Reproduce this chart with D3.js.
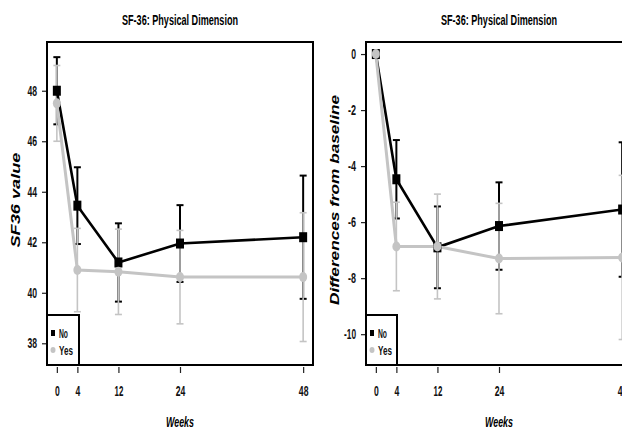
<!DOCTYPE html>
<html>
<head>
<meta charset="utf-8">
<script src="https://cdn.jsdelivr.net/npm/d3@7"></script>
<style>
  body { margin: 0; background: #fff; }
  text { font-family: "Liberation Sans Narrow", "Liberation Sans", Arial, sans-serif; font-weight: bold; }
</style>
</head>
<body>
<div id="Area"></div>
<script>
  // data
  var weeks = [0, 4, 12, 24, 48];
  var weekTicks = [0, 4, 12, 24, 48];
  var groups = ["No", "Yes"];

  // left panel: SF36 value (mean and half width of the bars)
  var sfNo = [48.0, 43.45, 41.2, 41.95, 42.2];
  var sfNoErr = [1.33, 1.52, 1.55, 1.52, 2.44];
  var sfYes = [47.5, 40.9, 40.83, 40.62, 40.62];
  var sfYesErr = [1.5, 1.65, 1.69, 1.85, 2.55];
  var sfTicks = [38, 40, 42, 44, 46, 48];

  // right panel: differences from baseline
  var diffNo = [0, -4.47, -6.9, -6.14, -5.55];
  var diffNoErr = [0, 1.4, 1.46, 1.56, 2.4];
  var diffYes = [0, -6.87, -6.87, -7.3, -7.26];
  var diffYesErr = [0, 1.58, 1.87, 1.97, 2.93];
  var diffTicks = [-10, -8, -6, -4, -2, 0];

  var W = 622, H = 431;
  var grey = "#c4c4c4";

  var svg = d3.select("#Area")
    .append("svg")
      .attr("width", W)
      .attr("height", H);

  // text squeezed to the narrow look of the original
  function narrow(sel, len) {
    sel.attr("textLength", len).attr("lengthAdjust", "spacingAndGlyphs");
  }
  function labelLen(s) {
    var n = 0;
    for (var i = 0; i < s.length; i++) n += (s[i] == "-") ? 3.2 : (s[i] == "1" ? 4 : 4.8);
    return n;
  }

  function panel(left, opts) {
    var top = 42, bottom = 365, width = 266;

    var x = d3.scaleLinear()
      .domain([-1.92, 49.92])
      .range([left, left + width]);
    var y = d3.scaleLinear()
      .domain(opts.yDomain)
      .range([bottom, top]);

    var g = svg.append("g");

    // title
    g.append("text")
      .attr("x", left + width / 2)
      .attr("y", 25)
      .attr("text-anchor", "middle")
      .style("font-size", "14px")
      .text("SF-36: Physical Dimension")
      .call(narrow, 116);

    // x axis, ticks only
    var xa = g.append("g")
      .attr("transform", "translate(0," + (bottom + 2) + ")")
      .call(d3.axisBottom(x).tickValues(weekTicks).tickSize(6).tickPadding(13).tickFormat(function(d) { return String(d); }));
    xa.select(".domain").remove();
    xa.selectAll("line").attr("stroke", "#222").attr("stroke-width", 1.2);
    xa.selectAll("text")
      .attr("fill", "#111")
      .style("font-size", "14px")
      .each(function(d) { d3.select(this).call(narrow, labelLen(String(d))); });

    // y axis
    var ya = g.append("g")
      .attr("transform", "translate(" + (left - 1) + ",0)")
      .call(d3.axisLeft(y).tickValues(opts.yTicks).tickSize(4).tickPadding(5).tickFormat(function(d) { return String(d); }));
    ya.select(".domain").remove();
    ya.selectAll("line").attr("stroke", "#222").attr("stroke-width", 1.2);
    ya.selectAll("text")
      .attr("fill", "#111")
      .style("font-size", "14px")
      .each(function(d) { d3.select(this).call(narrow, labelLen(String(d))); });

    // axis titles
    g.append("text")
      .attr("x", left + width / 2)
      .attr("y", 427)
      .attr("text-anchor", "middle")
      .style("font-size", "14px")
      .style("font-style", "italic")
      .text("Weeks")
      .call(narrow, 28);

    g.append("text")
      .attr("transform", "translate(" + opts.ylabX + ",200) rotate(-90)")
      .attr("text-anchor", "middle")
      .style("font-size", "13px")
      .style("font-style", "italic")
      .text(opts.ylab)
      .call(narrow, opts.ylabLen);

    var plot = g.append("g");

    var series = [
      { name: "No", mean: opts.no, err: opts.noErr, color: "#000", lw: 2.6, bw: 2 },
      { name: "Yes", mean: opts.yes, err: opts.yesErr, color: grey, lw: 3, bw: 1.6 }
    ];

    var line = d3.line()
      .x(function(d) { return x(d.w); })
      .y(function(d) { return y(d.v); });

    series.forEach(function(s) {
      var pts = weeks.map(function(w, i) { return { w: w, v: s.mean[i], e: s.err[i] }; });

      // error bars
      var bars = plot.append("g").selectAll("g")
        .data(pts.filter(function(d) { return d.e > 0; }))
        .join("g")
          .attr("stroke", s.color)
          .attr("stroke-width", s.bw);
      bars.append("line")
        .attr("x1", function(d) { return x(d.w); })
        .attr("x2", function(d) { return x(d.w); })
        .attr("y1", function(d) { return y(d.v - d.e); })
        .attr("y2", function(d) { return y(d.v + d.e); });
      bars.append("line")
        .attr("x1", function(d) { return x(d.w) - 3.5; })
        .attr("x2", function(d) { return x(d.w) + 3.5; })
        .attr("y1", function(d) { return y(d.v + d.e); })
        .attr("y2", function(d) { return y(d.v + d.e); });
      bars.append("line")
        .attr("x1", function(d) { return x(d.w) - 3.5; })
        .attr("x2", function(d) { return x(d.w) + 3.5; })
        .attr("y1", function(d) { return y(d.v - d.e); })
        .attr("y2", function(d) { return y(d.v - d.e); });

      s.pts = pts;
    });

    series.forEach(function(s) {
      plot.append("path")
        .datum(s.pts)
        .attr("fill", "none")
        .attr("stroke", s.color)
        .attr("stroke-width", s.lw)
        .attr("d", line);
    });

    // markers: black squares for No, grey dots for Yes
    plot.append("g").selectAll("rect")
      .data(series[0].pts)
      .join("rect")
        .attr("x", function(d) { return x(d.w) - 4; })
        .attr("y", function(d) { return y(d.v) - 5; })
        .attr("width", 8)
        .attr("height", 10)
        .attr("fill", "#000");
    plot.append("g").selectAll("ellipse")
      .data(series[1].pts)
      .join("ellipse")
        .attr("cx", function(d) { return x(d.w); })
        .attr("cy", function(d) { return y(d.v); })
        .attr("rx", 4)
        .attr("ry", 5)
        .attr("fill", grey);

    // frame
    g.append("rect")
      .attr("x", left)
      .attr("y", top)
      .attr("width", width)
      .attr("height", bottom - top)
      .attr("fill", "none")
      .attr("stroke", "#000")
      .attr("stroke-width", 2);

    // legend in the lower left corner
    var lg = g.append("g");
    lg.append("rect")
      .attr("x", left)
      .attr("y", 315)
      .attr("width", opts.legW)
      .attr("height", bottom - 315)
      .attr("fill", "#fff")
      .attr("stroke", "#000")
      .attr("stroke-width", 2);
    groups.forEach(function(name, i) {
      var cy = 333 + i * 17;
      if (i == 0) {
        lg.append("rect").attr("x", left + 4).attr("y", cy - 3).attr("width", 4).attr("height", 6).attr("fill", "#000");
      } else {
        lg.append("ellipse").attr("cx", left + 6).attr("cy", cy).attr("rx", 2.5).attr("ry", 3).attr("fill", grey);
      }
      lg.append("text")
        .attr("x", left + 12)
        .attr("y", cy + 4.5)
        .style("font-size", "12px")
        .attr("fill", "#111")
        .text(name)
        .call(narrow, name == "No" ? 9 : 14);
    });
  }

  panel(47, {
    yDomain: [37.14, 49.93], yTicks: sfTicks,
    no: sfNo, noErr: sfNoErr, yes: sfYes, yesErr: sfYesErr,
    ylab: "SF36 value", ylabX: 20, ylabLen: 95, legW: 32
  });

  panel(366, {
    yDomain: [-11.1, 0.43], yTicks: diffTicks,
    no: diffNo, noErr: diffNoErr, yes: diffYes, yesErr: diffYesErr,
    ylab: "Differences from baseline", ylabX: 339, ylabLen: 210, legW: 31
  });
</script>
</body>
</html>
